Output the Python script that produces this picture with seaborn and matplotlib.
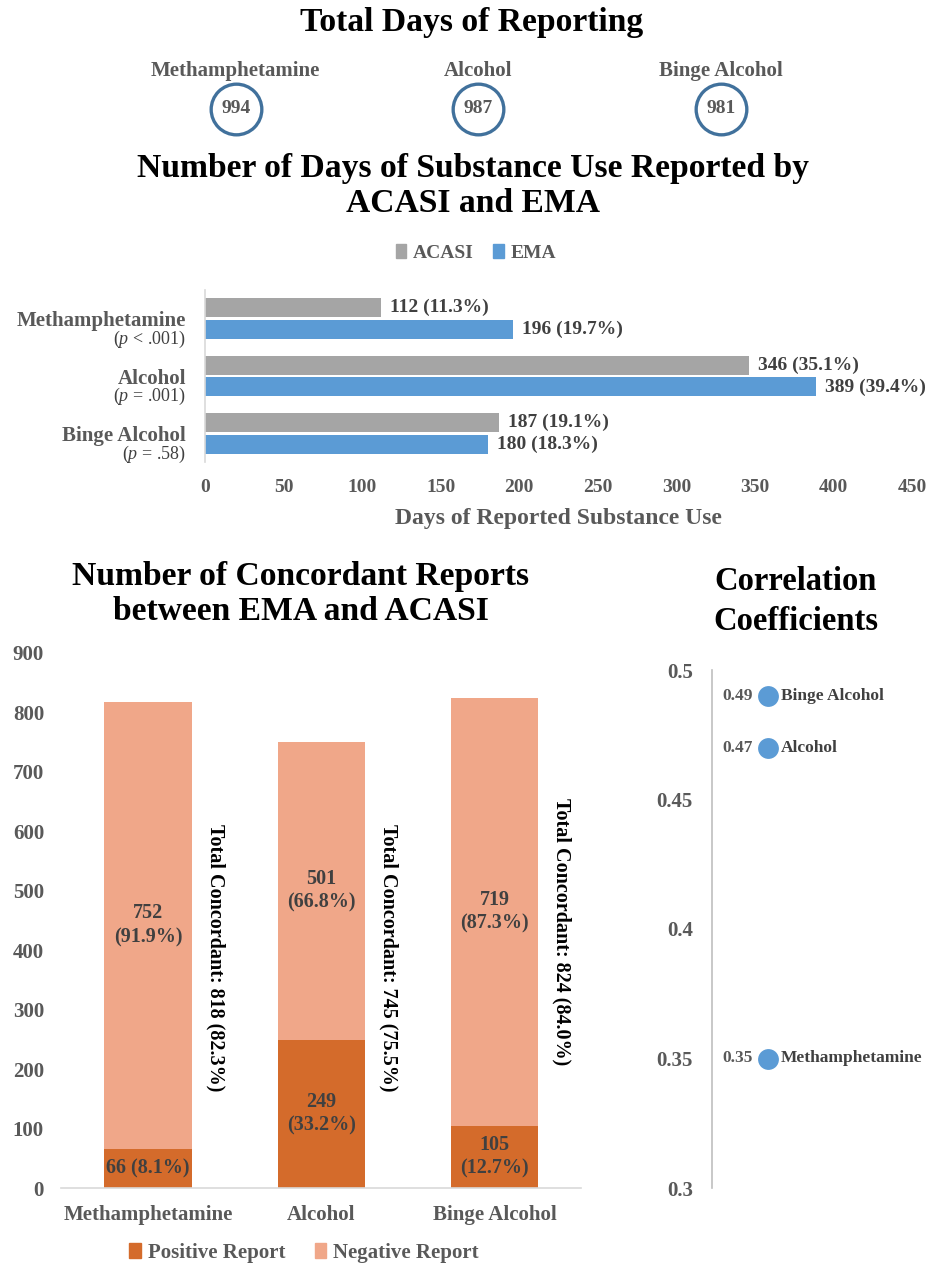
import numpy as np
import pandas as pd
import matplotlib
matplotlib.use("Agg")
import matplotlib.pyplot as plt
import seaborn as sns
from matplotlib.patches import Patch
from matplotlib.ticker import FormatStrFormatter
from matplotlib.transforms import blended_transform_factory, ScaledTranslation

# ---------------- data ----------------
substances = ["Methamphetamine", "Alcohol", "Binge Alcohol"]
total_days = [994, 987, 981]

p_values = ["($\\mathit{p}$ < .001)", "($\\mathit{p}$ = .001)", "($\\mathit{p}$ = .58)"]
acasi_days = [112, 346, 187]
acasi_pct = ["11.3%", "35.1%", "19.1%"]
ema_days = [196, 389, 180]
ema_pct = ["19.7%", "39.4%", "18.3%"]
days_ticks = [0, 50, 100, 150, 200, 250, 300, 350, 400, 450]

positive_reports = [66, 249, 105]
positive_pct = ["8.1%", "33.2%", "12.7%"]
negative_reports = [752, 501, 719]
negative_pct = ["91.9%", "66.8%", "87.3%"]
total_concordant = [818, 745, 824]
total_concordant_pct = ["82.3%", "75.5%", "84.0%"]
count_ticks = [0, 100, 200, 300, 400, 500, 600, 700, 800, 900]

corr_labels = ["Binge Alcohol", "Alcohol", "Methamphetamine"]
corr_values = [0.49, 0.47, 0.35]
corr_x = [1, 1, 1]
corr_ticks = [0.3, 0.35, 0.4, 0.45, 0.5]

# ---------------- style ----------------
sns.set_theme(style="white")
plt.rcParams['font.family'] = ['Liberation Serif', 'DejaVu Serif']
plt.rcParams['mathtext.fontset'] = 'custom'
plt.rcParams['mathtext.rm'] = 'Liberation Serif'
plt.rcParams['mathtext.it'] = 'Liberation Serif:italic'
plt.rcParams['mathtext.bf'] = 'Liberation Serif:bold'

GRAY_TXT = "#595959"
DARK_TXT = "#404040"
C_ACASI = "#A5A5A5"
C_EMA = "#5B9BD5"
C_POS = "#D46B2B"
C_NEG = "#F0A789"
C_RING = "#41719C"

W, H = 929, 1265
fig = plt.figure(figsize=(W / 100, H / 100), dpi=100)


def fx(px):
    return px / W


def fy(py):
    return 1 - py / H


# ---------------- titles ----------------
TS = 24.2
fig.text(fx(472), fy(22), "Total Days of Reporting", ha="center", va="center",
         fontsize=TS, fontweight="bold", color="black")
fig.text(fx(473), fy(168), "Number of Days of Substance Use Reported by", ha="center",
         va="center", fontsize=TS, fontweight="bold", color="black")
fig.text(fx(473), fy(203), "ACASI and EMA", ha="center", va="center",
         fontsize=TS, fontweight="bold", color="black")
fig.text(fx(301), fy(577), "Number of Concordant Reports", ha="center", va="center",
         fontsize=TS, fontweight="bold", color="black")
fig.text(fx(301), fy(611), "between EMA and ACASI", ha="center", va="center",
         fontsize=TS, fontweight="bold", color="black")
fig.text(fx(796), fy(582), "Correlation", ha="center", va="center",
         fontsize=23.5, fontweight="bold", color="black")
fig.text(fx(796), fy(621), "Coefficients", ha="center", va="center",
         fontsize=23.5, fontweight="bold", color="black")

# ---------------- top: total days circles ----------------
ax0 = fig.add_axes([fx(114.5), fy(140), 727.5 / W, 85 / H])
pos0 = np.arange(len(substances))
sns.scatterplot(x=pos0, y=np.zeros(len(substances)), s=1330, color="white",
                edgecolor=C_RING, linewidth=2.4, ax=ax0, legend=False, zorder=3)
ax0.set_xlim(-0.5, 2.5)
ax0.set_ylim(-0.365, 0.635)
for i, (name, d) in enumerate(zip(substances, total_days)):
    ax0.annotate(str(d), (i, 0), ha="center", va="center", fontsize=14,
                 fontweight="bold", color=GRAY_TXT, zorder=4)
    ax0.annotate(name, (i, 0), xytext=(0, 27.5), textcoords="offset points",
                 ha="center", va="center", fontsize=15, fontweight="bold", color=GRAY_TXT)
ax0.axis("off")

# ---------------- chart 1: horizontal grouped bars ----------------
ax1 = fig.add_axes([fx(205), fy(462), 707 / W, 172 / H])
df1 = pd.DataFrame({
    "substance": substances * 2,
    "days": acasi_days + ema_days,
    "source": ["ACASI"] * 3 + ["EMA"] * 3,
})
sns.barplot(data=df1, y="substance", x="days", hue="source", orient="h",
            palette={"ACASI": C_ACASI, "EMA": C_EMA}, width=0.76, gap=0.12,
            saturation=1, linewidth=0, ax=ax1, legend=False)
ax1.set_xlim(0, 450)
ax1.set_ylim(2.5, -0.5)
ax1.set_xticks(days_ticks)
ax1.set_xticklabels([str(t) for t in days_ticks])
for lab in ax1.get_xticklabels():
    lab.set_fontweight("bold")
ax1.tick_params(axis="x", length=0, pad=12, labelsize=14, labelcolor=GRAY_TXT)
ax1.set_yticks(range(3))
ax1.set_yticklabels(substances)
shift_up = ScaledTranslation(0, 3 / 72, fig.dpi_scale_trans)
for lab in ax1.get_yticklabels():
    lab.set_fontweight("bold")
    lab.set_transform(lab.get_transform() + shift_up)
ax1.tick_params(axis="y", length=0, pad=13.5, labelsize=15, labelcolor=GRAY_TXT)
ax1.set_xlabel("Days of Reported Substance Use", fontsize=17, fontweight="bold",
               color=GRAY_TXT, labelpad=9)
ax1.set_ylabel("")
sns.despine(ax=ax1, bottom=True)
ax1.spines["left"].set_color("#D9D9D9")
ax1.spines["left"].set_linewidth(1.2)

labels_acasi = [f"{d} ({p})" for d, p in zip(acasi_days, acasi_pct)]
labels_ema = [f"{d} ({p})" for d, p in zip(ema_days, ema_pct)]
ax1.bar_label(ax1.containers[0], labels=labels_acasi, padding=6.5, fontsize=14,
              fontweight="bold", color=DARK_TXT)
ax1.bar_label(ax1.containers[1], labels=labels_ema, padding=6.5, fontsize=14,
              fontweight="bold", color=DARK_TXT)

trans1 = blended_transform_factory(ax1.transAxes, ax1.transData)
for i, p in enumerate(p_values):
    ax1.annotate(p, xy=(0, i), xycoords=trans1, xytext=(-13.5, -15),
                 textcoords="offset points", ha="right", va="center",
                 fontsize=13, color=DARK_TXT)

fig.legend(handles=[Patch(color=C_ACASI), Patch(color=C_EMA)],
           labels=["ACASI", "EMA"], loc="center", bbox_to_anchor=(fx(476), fy(253)),
           ncol=2, frameon=False, handlelength=0.55, handleheight=0.75,
           handletextpad=0.35, columnspacing=1.0,
           prop={"size": 14, "weight": "bold"}, labelcolor=GRAY_TXT)

# ---------------- chart 3: stacked concordant bars ----------------
ax3 = fig.add_axes([fx(61.5), fy(1188), 519.5 / W, 535 / H])
stack_tops = [p + n for p, n in zip(positive_reports, negative_reports)]
sns.barplot(x=substances, y=stack_tops, color=C_NEG, width=0.505, saturation=1,
            linewidth=0, ax=ax3)
sns.barplot(x=substances, y=positive_reports, color=C_POS, width=0.505, saturation=1,
            linewidth=0, ax=ax3)
ax3.set_ylim(0, 900)
ax3.set_xlim(-0.5, 2.5)
ax3.set_yticks(count_ticks)
ax3.set_yticklabels([str(t) for t in count_ticks])
for lab in ax3.get_yticklabels() + ax3.get_xticklabels():
    lab.set_fontweight("bold")
ax3.tick_params(axis="y", length=0, pad=12.6, labelsize=15, labelcolor=GRAY_TXT)
ax3.tick_params(axis="x", length=0, pad=12, labelsize=15, labelcolor=GRAY_TXT)
sns.despine(ax=ax3, left=True)
ax3.spines["bottom"].set_color("#D9D9D9")
ax3.spines["bottom"].set_linewidth(1.2)

total_label_y = [387, 388, 431]
for i in range(3):
    pos, neg = positive_reports[i], negative_reports[i]
    ax3.text(i, pos + neg / 2, f"{neg}\n({negative_pct[i]})", ha="center", va="center",
             fontsize=14.5, fontweight="bold", color=DARK_TXT, linespacing=1.25)
    sep = " " if pos < 80 else "\n"
    ax3.text(i, pos / 2, f"{pos}{sep}({positive_pct[i]})", ha="center", va="center",
             fontsize=14.5, fontweight="bold", color=DARK_TXT, linespacing=1.25)
    ax3.text(i + 0.39, total_label_y[i],
             f"Total Concordant: {total_concordant[i]} ({total_concordant_pct[i]})",
             rotation=270, ha="center", va="center", fontsize=14.5,
             fontweight="bold", color="black")

fig.legend(handles=[Patch(color=C_POS), Patch(color=C_NEG)],
           labels=["Positive Report", "Negative Report"], loc="center",
           bbox_to_anchor=(fx(304), fy(1253)), ncol=2, frameon=False,
           handlelength=0.55, handleheight=0.75, handletextpad=0.35,
           columnspacing=1.4, prop={"size": 15, "weight": "bold"},
           labelcolor=GRAY_TXT)

# ---------------- chart 4: correlation dot plot ----------------
ax4 = fig.add_axes([fx(712), fy(1188), 203 / W, 518 / H])
sns.scatterplot(x=corr_x, y=corr_values, s=225, color=C_EMA, linewidth=0,
                ax=ax4, legend=False, clip_on=False)
ax4.set_xlim(0, 3.63)
ax4.set_ylim(0.3, 0.5)
ax4.set_yticks(corr_ticks)
ax4.yaxis.set_major_formatter(FormatStrFormatter("%g"))
for lab in ax4.get_yticklabels():
    lab.set_fontweight("bold")
ax4.tick_params(axis="y", length=0, pad=13.7, labelsize=15, labelcolor=GRAY_TXT)
ax4.set_xticks([])
sns.despine(ax=ax4, bottom=True)
ax4.spines["left"].set_color("#BFBFBF")
ax4.spines["left"].set_linewidth(1.2)
for xv, v, name in zip(corr_x, corr_values, corr_labels):
    ax4.annotate(f"{v:.2f}", (xv, v), xytext=(-10.8, 0), textcoords="offset points",
                 ha="right", va="center", fontsize=12.5, fontweight="bold", color=GRAY_TXT)
    ax4.annotate(name, (xv, v), xytext=(9.4, 0), textcoords="offset points",
                 ha="left", va="center", fontsize=12.5, fontweight="bold", color=DARK_TXT)

fig.savefig("out.png", dpi=100)
